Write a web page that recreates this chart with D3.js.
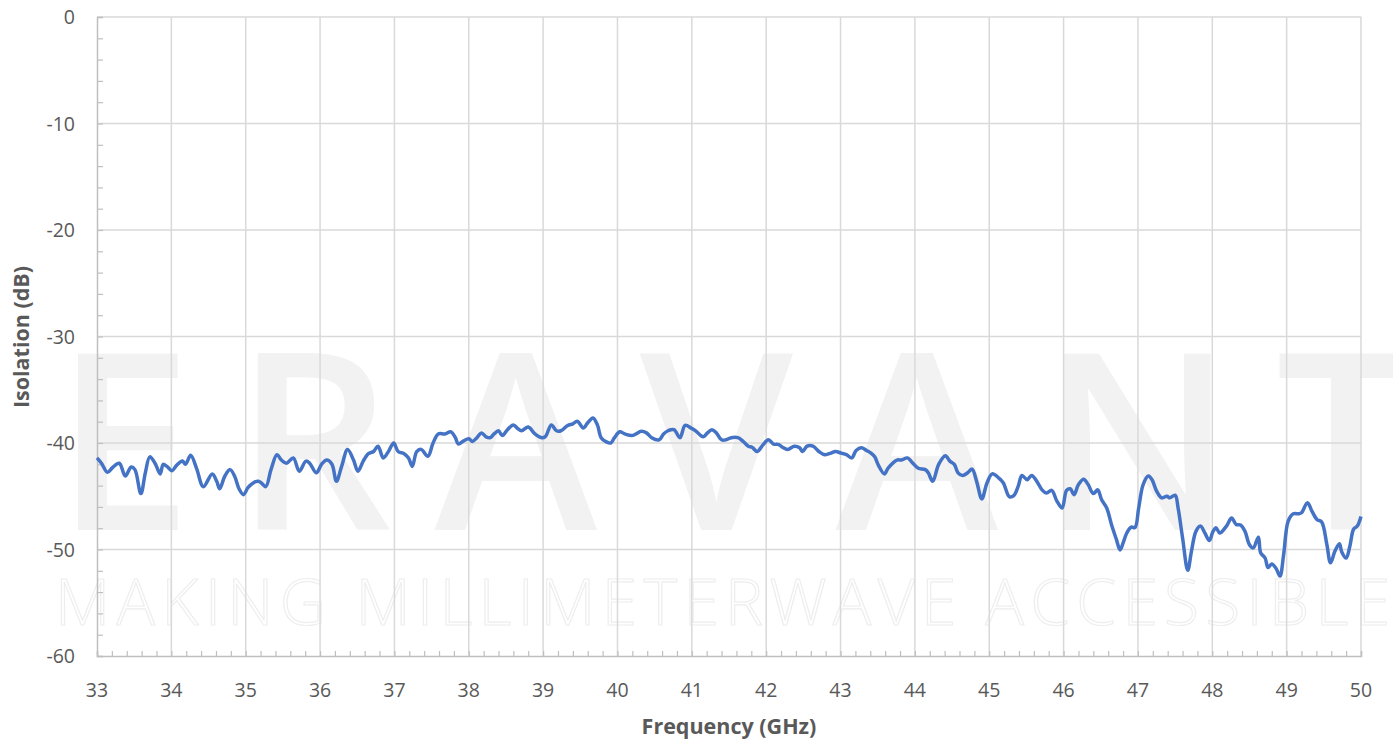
<!DOCTYPE html>
<html>
<head>
<meta charset="utf-8">
<script src="https://cdn.jsdelivr.net/npm/d3@7"></script>
<style>
  body { margin: 0; background: #fff; }
  svg { display: block; font-family: "Open Sans", "Liberation Sans", sans-serif; }
</style>
</head>
<body>
<div id="chart"></div>
<script>
// frequency (GHz) and isolation (dB)
const freq = [
  33.00, 33.06, 33.14, 33.21, 33.30, 33.38, 33.46, 33.51, 33.59, 33.65, 33.71, 33.78, 33.85, 33.89, 33.94,
  34.01, 34.07, 34.15, 34.19, 34.26, 34.34, 34.43, 34.55, 34.61, 34.65, 34.72, 34.79, 34.85, 34.91, 34.97,
  35.03, 35.10, 35.17, 35.21, 35.27, 35.34, 35.42, 35.48, 35.55, 35.64, 35.72, 35.81, 35.86, 35.95,
  36.02, 36.09, 36.16, 36.22, 36.29, 36.37, 36.45, 36.51, 36.58, 36.65, 36.72, 36.78, 36.85, 36.92, 36.99,
  37.05, 37.13, 37.19, 37.24, 37.30, 37.36, 37.45, 37.52, 37.59, 37.68, 37.76, 37.82, 37.86, 37.93,
  38.00, 38.05, 38.11, 38.17, 38.24, 38.29, 38.34, 38.40, 38.45, 38.52, 38.60, 38.66, 38.71, 38.80, 38.89, 38.98,
  39.03, 39.11, 39.18, 39.24, 39.33, 39.40, 39.46, 39.54, 39.60, 39.67, 39.73, 39.78, 39.85, 39.91, 39.96,
  40.03, 40.10, 40.19, 40.25, 40.32, 40.39, 40.46, 40.56, 40.62, 40.68, 40.76, 40.84, 40.91, 40.99,
  41.06, 41.12, 41.16, 41.21, 41.27, 41.33, 41.40, 41.46, 41.53, 41.62, 41.69, 41.76, 41.81, 41.88, 41.96,
  42.03, 42.10, 42.17, 42.22, 42.29, 42.38, 42.45, 42.49, 42.55, 42.63, 42.71, 42.79, 42.87, 42.93,
  43.01, 43.08, 43.15, 43.21, 43.28, 43.35, 43.41, 43.46, 43.51, 43.59, 43.64, 43.76, 43.82, 43.90, 43.96,
  44.04, 44.14, 44.18, 44.24, 44.32, 44.41, 44.47, 44.53, 44.58, 44.64, 44.71, 44.77, 44.83, 44.90, 44.97,
  45.04, 45.13, 45.19, 45.27, 45.33, 45.39, 45.44, 45.51, 45.57, 45.64, 45.71, 45.77, 45.84, 45.91, 45.98,
  46.04, 46.09, 46.14, 46.20, 46.27, 46.33, 46.40, 46.46, 46.51, 46.58, 46.65, 46.71, 46.76, 46.80, 46.85, 46.91, 46.96,
  47.01, 47.07, 47.14, 47.19, 47.25, 47.32, 47.39, 47.43, 47.50, 47.54, 47.60, 47.67, 47.72, 47.78, 47.84, 47.90, 47.96,
  48.01, 48.05, 48.10, 48.19, 48.26, 48.32, 48.38, 48.44, 48.50, 48.55, 48.62, 48.65, 48.71, 48.75, 48.80, 48.86, 48.91, 48.96,
  49.02, 49.09, 49.16, 49.20, 49.28, 49.34, 49.41, 49.47, 49.54, 49.59, 49.65, 49.71, 49.74, 49.80, 49.85, 49.90, 49.95, 50.00
]
const isolation = [
  -41.4, -41.9, -42.75, -42.3, -41.9, -43.1, -42.25, -42.5, -44.75, -42.8, -41.3, -41.9, -42.9, -42.0, -42.2,
  -42.6, -42.1, -41.7, -42.0, -41.15, -42.4, -44.1, -42.9, -43.6, -44.3, -43.1, -42.5, -43.1, -44.3, -44.85,
  -44.2, -43.75, -43.6, -43.75, -44.1, -42.5, -41.1, -41.6, -41.9, -41.4, -42.65, -41.7, -41.9, -42.8,
  -42.0, -41.6, -42.0, -43.6, -42.2, -40.6, -41.6, -42.65, -41.7, -41.0, -40.8, -40.3, -41.4, -40.8, -40.0,
  -40.8, -41.0, -41.4, -42.2, -40.8, -40.6, -41.25, -40.0, -39.15, -39.15, -38.95, -39.5, -40.1, -39.8,
  -39.6, -39.85, -39.5, -39.05, -39.45, -39.5, -39.15, -38.85, -39.3, -38.75, -38.3, -38.65, -38.85, -38.5, -39.15, -39.5,
  -39.4, -38.3, -38.85, -38.85, -38.35, -38.2, -37.95, -38.6, -38.1, -37.65, -38.3, -39.5, -39.9, -40.0, -39.5,
  -38.95, -39.15, -39.3, -39.15, -38.9, -39.05, -39.5, -39.7, -39.15, -38.85, -38.75, -39.5, -38.35, -38.6,
  -38.9, -39.3, -39.4, -39.05, -38.75, -39.05, -39.7, -39.7, -39.5, -39.5, -39.85, -40.3, -40.4, -40.8, -40.15,
  -39.7, -40.1, -40.15, -40.4, -40.6, -40.3, -40.45, -40.8, -40.3, -40.3, -40.8, -41.1, -40.95, -40.8,
  -40.95, -41.1, -41.4, -40.7, -40.45, -40.7, -40.95, -41.3, -42.1, -42.9, -42.35, -41.6, -41.6, -41.4, -41.8,
  -42.35, -42.5, -42.8, -43.6, -42.0, -41.2, -41.7, -42.0, -42.8, -43.05, -42.8, -42.45, -43.6, -45.25, -43.75,
  -42.9, -43.3, -43.75, -45.05, -44.95, -44.05, -43.05, -43.45, -43.05, -43.6, -44.4, -44.7, -44.45, -45.45, -46.1,
  -44.45, -44.3, -44.85, -43.9, -43.4, -43.9, -44.75, -44.4, -45.3, -46.1, -47.8, -49.05, -50.05, -49.4, -48.45, -47.9, -47.95,
  -46.1, -43.9, -43.1, -43.45, -44.5, -45.15, -45.0, -45.15, -44.9, -46.1, -48.9, -51.95, -50.15, -48.3, -47.8, -48.45, -49.15,
  -48.3, -47.95, -48.45, -47.8, -47.05, -47.65, -47.7, -48.3, -49.55, -49.85, -48.85, -50.3, -50.8, -51.7, -51.35, -51.8, -52.5, -50.45,
  -47.35, -46.65, -46.65, -46.55, -45.6, -46.4, -47.2, -47.4, -49.5, -51.25, -50.15, -49.45, -50.2, -50.8, -49.7, -48.1, -47.8, -46.9
]
const xTicks = d3.range(33, 51)
const yTicks = [0, -10, -20, -30, -40, -50, -60]

const width = 1393
const height = 740
const margin = { top: 17, right: 32, bottom: 84, left: 97 }

const svg = d3.select('#chart')
  .append('svg')
  .attr('width', width)
  .attr('height', height)

const x = d3.scaleLinear()
  .domain([33, 50])
  .range([margin.left, width - margin.right])
const y = d3.scaleLinear()
  .domain([-60, 0])
  .range([height - margin.bottom, margin.top])

// watermark
svg.append('text')
  .attr('x', 55)
  .attr('y', 530)
  .attr('textLength', 1360)
  .attr('lengthAdjust', 'spacing')
  .style('font-size', '246px')
  .style('font-weight', 600)
  .style('fill', '#f2f2f2')
  .text('ERAVANT')
svg.append('text')
  .attr('x', 55)
  .attr('y', 625)
  .attr('textLength', 1335)
  .attr('lengthAdjust', 'spacing')
  .style('font-size', '64px')
  .style('font-weight', 300)
  .style('fill', 'none')
  .style('stroke', '#eeeeee')
  .style('stroke-width', 1.2)
  .text('MAKING MILLIMETERWAVE ACCESSIBLE')

// grid
svg.append('g')
  .selectAll('line')
  .data(xTicks.slice(1))
  .join('line')
  .attr('x1', d => x(d))
  .attr('x2', d => x(d))
  .attr('y1', y(0))
  .attr('y2', y(-60))
  .attr('stroke', '#d9d9d9')
  .attr('stroke-width', 1.5)
svg.append('g')
  .selectAll('line')
  .data(yTicks.slice(0, -1))
  .join('line')
  .attr('x1', x(33))
  .attr('x2', x(50))
  .attr('y1', d => y(d))
  .attr('y2', d => y(d))
  .attr('stroke', '#d9d9d9')
  .attr('stroke-width', 1.5)

// axes
const xAxis = svg.append('g')
  .attr('transform', `translate(0,${y(-60)})`)
  .call(d3.axisBottom(x).tickValues(d3.range(33, 50.01, 0.2)).tickSize(-5).tickFormat(''))
xAxis.select('.domain').attr('stroke', '#bfbfbf').attr('stroke-width', 1.5)
xAxis.selectAll('.tick line').attr('stroke', '#bfbfbf').attr('stroke-width', 1.2)

const yAxis = svg.append('g')
  .attr('transform', `translate(${x(33)},0)`)
  .call(d3.axisLeft(y).tickValues(d3.range(-60, 0.01, 2)).tickSize(-6).tickFormat(''))
yAxis.select('.domain').attr('stroke', '#bfbfbf').attr('stroke-width', 1.5)
yAxis.selectAll('.tick line').attr('stroke', '#bfbfbf').attr('stroke-width', 1.2)

svg.append('g')
  .selectAll('text')
  .data(xTicks)
  .join('text')
  .attr('x', d => x(d))
  .attr('y', 697)
  .attr('text-anchor', 'middle')
  .style('font-size', '19.5px')
  .style('fill', '#595959')
  .text(d => d)
svg.append('g')
  .selectAll('text')
  .data(yTicks)
  .join('text')
  .attr('x', 75)
  .attr('y', d => y(d) + 7)
  .attr('text-anchor', 'end')
  .style('font-size', '19.5px')
  .style('fill', '#595959')
  .text(d => d)

// titles
svg.append('text')
  .attr('x', 729)
  .attr('y', 734)
  .attr('text-anchor', 'middle')
  .style('font-size', '21.5px')
  .style('font-weight', 'bold')
  .style('fill', '#595959')
  .text('Frequency (GHz)')
svg.append('text')
  .attr('transform', 'translate(29,337) rotate(-90)')
  .attr('text-anchor', 'middle')
  .style('font-size', '21.5px')
  .style('font-weight', 'bold')
  .style('fill', '#595959')
  .text('Isolation (dB)')

// series
const line = d3.line()
  .x((d, i) => x(freq[i]))
  .y(d => y(d))
  .curve(d3.curveCatmullRom.alpha(0.5))
svg.append('path')
  .datum(isolation)
  .attr('d', line)
  .attr('fill', 'none')
  .attr('stroke', '#4472c4')
  .attr('stroke-width', 3.5)
  .attr('stroke-linejoin', 'round')
</script>
</body>
</html>
